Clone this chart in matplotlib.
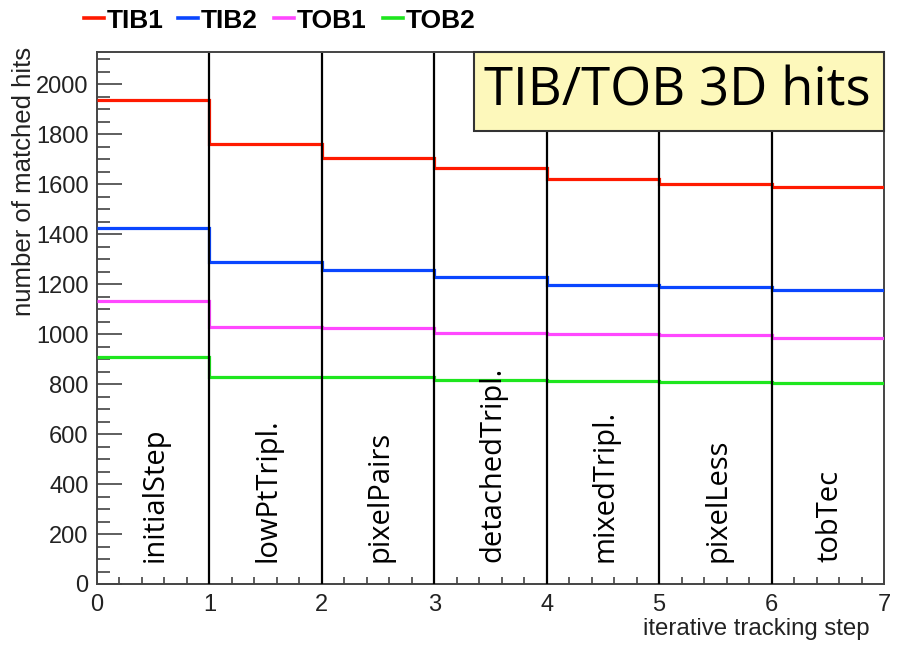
import numpy as np
import matplotlib
matplotlib.use("Agg")
import matplotlib.pyplot as plt
from matplotlib.patches import Rectangle
from matplotlib.lines import Line2D
from matplotlib.ticker import MultipleLocator

# matched hits per iterative step
steps = ["initialStep", "lowPtTripl.", "pixelPairs", "detachedTripl.",
         "mixedTripl.", "pixelLess", "tobTec"]
tib1 = [1939, 1763, 1707, 1667, 1622, 1600, 1589]
tib2 = [1425, 1289, 1256, 1228, 1198, 1188, 1177]
tob1 = [1132, 1029, 1023, 1006, 1000, 995, 983]
tob2 = [909, 829, 829, 815, 813, 809, 804]

series = [("TIB1", tib1, "#ff1a00"),
          ("TIB2", tib2, "#0a46ff"),
          ("TOB1", tob1, "#ff48ff"),
          ("TOB2", tob2, "#1ee61e")]

plt.rcParams["font.family"] = ["Liberation Sans", "DejaVu Sans"]

fig = plt.figure(figsize=(8.98, 6.48), dpi=100)
ax = fig.add_axes([97/898, 64/648, 787/898, 532/648])

edges = np.arange(len(steps) + 1)
for name, vals, col in series:
    ax.stairs(vals, edges, baseline=None, color=col, lw=2.3, label=name, zorder=3)

# step separators
ax.vlines(edges[1:-1], 0, 2125, color="black", lw=1.6, zorder=4)

for i, s in enumerate(steps):
    ax.text(i + 0.52, 88, s, rotation=90, ha="center", va="bottom",
            fontsize=21, family=["Open Sans", "DejaVu Sans"], zorder=5)

ax.set_xlim(0, 7)
ax.set_ylim(0, 2130)
ax.xaxis.set_major_locator(MultipleLocator(1))
ax.xaxis.set_minor_locator(MultipleLocator(0.2))
ax.yaxis.set_major_locator(MultipleLocator(200))
ax.yaxis.set_minor_locator(MultipleLocator(50))
ax.tick_params(axis="both", which="both", direction="in", colors="#333333",
               labelcolor="#222222", labelsize=17)
ax.tick_params(axis="y", which="major", length=18, width=1.1, pad=6)
ax.tick_params(axis="y", which="minor", length=9, width=1.1)
ax.tick_params(axis="x", which="major", length=10, width=1.1, pad=7)
ax.tick_params(axis="x", which="minor", length=5, width=1.1)
for sp in ax.spines.values():
    sp.set_color("#444444")
    sp.set_linewidth(1.4)

ax.set_ylabel("number of matched hits", loc="top", fontsize=18.5, color="#222222")
ax.yaxis.set_label_coords(-0.078, 1.01)
ax.set_xlabel("iterative tracking step", loc="right", fontsize=17.3, color="#222222")
ax.xaxis.set_label_coords(0.982, -0.063)

# title box in the upper right corner
box = Rectangle((474/898, 1 - 131/648), 410/898, 79/648, transform=fig.transFigure,
                facecolor="#fdf8bb", edgecolor="#333333", lw=1.5, zorder=10)
fig.patches.append(box)
fig.text(677/898, 1 - 92/648, "TIB/TOB 3D hits", ha="center", va="center",
         fontsize=38, family=["Open Sans", "DejaVu Sans"], zorder=11)

# legend row along the top edge
leg_x = [84, 178, 274, 383]
for (name, vals, col), x0 in zip(series, leg_x):
    y = 1 - 18/648
    fig.lines.append(Line2D([x0/898, (x0 + 20)/898], [y, y], color=col, lw=2.6,
                            transform=fig.transFigure))
    fig.text((x0 + 23)/898, y, name, ha="left", va="center_baseline",
             fontsize=19, weight="bold")

fig.savefig("out.png", dpi=100)
